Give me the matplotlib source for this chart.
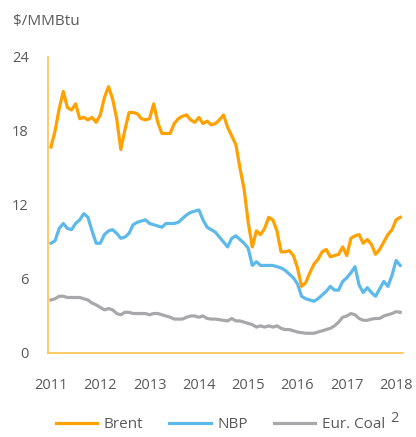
import numpy as np
import matplotlib
matplotlib.use("Agg")
import matplotlib.pyplot as plt

plt.rcParams['font.family'] = ['Open Sans', 'DejaVu Sans']

# monthly prices, Jan 2011 - Feb 2018 ($/MMBtu)
brent = [16.7, 18.0, 19.8, 21.2, 19.9, 19.7, 20.2, 19.0, 19.1, 18.9, 19.1, 18.7,
         19.3, 20.7, 21.6, 20.6, 19.0, 16.5, 18.1, 19.5, 19.5, 19.4, 19.0, 18.9,
         19.0, 20.2, 18.7, 17.8, 17.8, 17.8, 18.6, 19.0, 19.2, 19.3, 18.9, 18.7,
         19.1, 18.6, 18.8, 18.5, 18.6, 18.9, 19.3, 18.3, 17.6, 16.9, 15.0, 13.3,
         10.6, 8.6, 9.9, 9.6, 10.1, 11.0, 10.8, 9.9, 8.2, 8.2, 8.3, 7.9,
         6.9, 5.4, 5.7, 6.5, 7.2, 7.6, 8.2, 8.4, 7.8, 7.9, 8.0, 8.6,
         7.9, 9.3, 9.5, 9.6, 8.9, 9.2, 8.8, 8.0, 8.4, 9.0, 9.6, 10.0,
         10.8, 11.0]
nbp = [8.9, 9.1, 10.1, 10.5, 10.1, 10.0, 10.5, 10.8, 11.3, 11.0, 9.9, 8.9,
       8.9, 9.6, 9.9, 10.0, 9.7, 9.3, 9.4, 9.7, 10.4, 10.6, 10.7, 10.8,
       10.5, 10.4, 10.3, 10.2, 10.5, 10.5, 10.5, 10.6, 10.9, 11.2, 11.4, 11.5,
       11.6, 10.8, 10.2, 10.0, 9.8, 9.4, 9.0, 8.6, 9.3, 9.5, 9.2, 8.9,
       8.5, 7.1, 7.4, 7.1, 7.1, 7.1, 7.1, 7.0, 6.9, 6.7, 6.4, 6.1,
       5.6, 4.6, 4.4, 4.3, 4.2, 4.4, 4.7, 5.0, 5.4, 5.1, 5.1, 5.8,
       6.1, 6.5, 7.0, 5.5, 4.9, 5.3, 4.9, 4.6, 5.2, 5.8, 5.4, 6.3,
       7.5, 7.1]
coal = [4.3, 4.4, 4.6, 4.6, 4.5, 4.5, 4.5, 4.5, 4.4, 4.3, 4.05, 3.9,
        3.7, 3.5, 3.6, 3.5, 3.2, 3.1, 3.3, 3.3, 3.2, 3.2, 3.2, 3.2,
        3.1, 3.2, 3.2, 3.1, 3.0, 2.9, 2.75, 2.75, 2.75, 2.9, 3.0, 3.0,
        2.9, 3.0, 2.8, 2.75, 2.75, 2.7, 2.65, 2.6, 2.8, 2.6, 2.6, 2.5,
        2.4, 2.3, 2.1, 2.2, 2.1, 2.2, 2.1, 2.2, 2.0, 1.9, 1.9, 1.8,
        1.7, 1.65, 1.6, 1.6, 1.6, 1.7, 1.8, 1.9, 2.0, 2.2, 2.5, 2.9,
        3.0, 3.2, 3.1, 2.8, 2.65, 2.65, 2.75, 2.8, 2.8, 3.0, 3.1, 3.2,
        3.35, 3.3]
year_ticks = [2011, 2012, 2013, 2014, 2015, 2016, 2017, 2018]
y_ticks = [0, 6, 12, 18, 24]

months = 2011 + np.arange(len(brent)) / 12

fig = plt.figure(figsize=(4.16, 4.37), dpi=100)
ax = fig.add_axes([48 / 416, 84 / 437, 355 / 416, 296 / 437])

ax.plot(months, brent, color='#FFA100', lw=2.3, label='Brent')
ax.plot(months, nbp, color='#5DB9EA', lw=2.3, label='NBP')
ax.plot(months, coal, color='#A8A8AA', lw=2.3, label='Eur. Coal')

ax.set_ylim(0, 24)
ax.set_xlim(2010.94, 2018.14)
ax.set_yticks(y_ticks)
ax.set_xticks(year_ticks)
ax.tick_params(length=0, labelsize=10.5, colors='#595959')
ax.tick_params(axis='y', pad=14)
ax.tick_params(axis='x', pad=18)

for s in ['top', 'right']:
    ax.spines[s].set_visible(False)
for s in ['left', 'bottom']:
    ax.spines[s].set_color('#FFC24D')
    ax.spines[s].set_linewidth(1.2)

fig.text(13 / 416, 1 - 21 / 437, '$/MMBtu', fontsize=11, color='#595959', va='center')

fig.legend(loc='center', bbox_to_anchor=(0.53, 1 - 425 / 437), ncol=3, frameon=False,
           fontsize=11, handlelength=2.7, handletextpad=0.45, columnspacing=1.7,
           labelcolor='#595959')
fig.text(390 / 416, 1 - 418 / 437, '2', fontsize=10.5, color='#595959', va='center')

fig.savefig('out.png', dpi=100)
